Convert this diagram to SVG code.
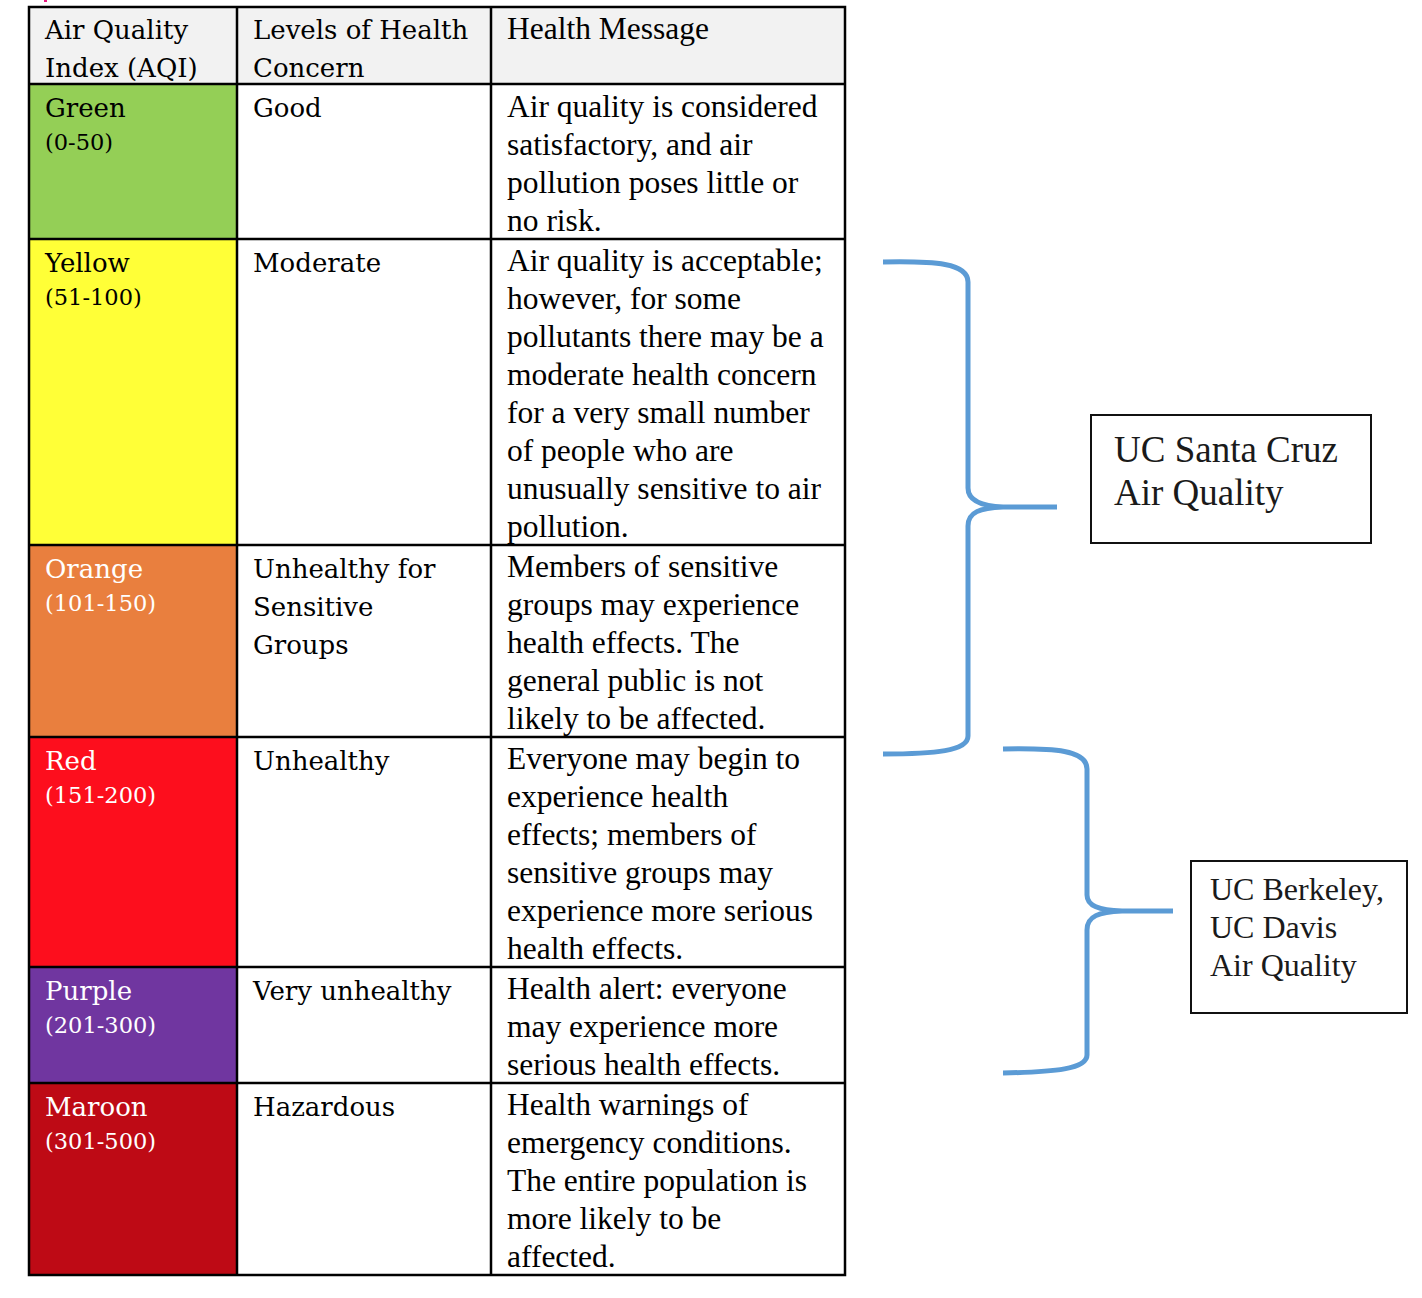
<svg xmlns="http://www.w3.org/2000/svg" width="1422" height="1298" viewBox="0 0 1422 1298">
<style>
.c1{font-family:"DejaVu Serif","Liberation Serif",serif;font-size:26px;fill:#000}
.rg{font-family:"DejaVu Serif","Liberation Serif",serif;font-size:22.5px;fill:#000}
.w{fill:#fff}
.msg{font-family:"Liberation Serif","Times New Roman",serif;font-size:31.5px;fill:#000}
.box{font-family:"Liberation Serif","Times New Roman",serif;fill:#1a1a1a}
.grid{stroke:#000;stroke-width:2.5;fill:none}
.brace{stroke:#5b9bd5;stroke-width:5;fill:none;stroke-linecap:butt;stroke-linejoin:round}
.nb{fill:#fff;stroke:#111;stroke-width:2}
</style>
<rect width="1422" height="1298" fill="#fff"/>
<rect x="44" y="0" width="3" height="2" fill="#e8177f"/>
<g id="table">
<g id="header">
<rect x="29" y="7" width="816" height="77" fill="#f2f2f2"/>
<text class="c1" x="45" y="39">Air Quality</text>
<text class="c1" x="45" y="77">Index (AQI)</text>
<text class="c1" x="253" y="39">Levels of Health</text>
<text class="c1" x="253" y="77">Concern</text>
<text class="msg" x="507" y="39">Health Message</text>
</g>
<g id="row-green">
<rect x="29" y="84" width="208" height="155" fill="#94cf56"/>
<text class="c1" x="45" y="117">Green</text>
<text class="rg" x="45" y="150">(0-50)</text>
<text class="c1" x="253" y="117">Good</text>
<text class="msg" x="507" y="117">Air quality is considered</text>
<text class="msg" x="507" y="155">satisfactory, and air</text>
<text class="msg" x="507" y="193">pollution poses little or</text>
<text class="msg" x="507" y="231">no risk.</text>
</g>
<g id="row-yellow">
<rect x="29" y="239" width="208" height="306" fill="#ffff37"/>
<text class="c1" x="45" y="272">Yellow</text>
<text class="rg" x="45" y="305">(51-100)</text>
<text class="c1" x="253" y="272">Moderate</text>
<text class="msg" x="507" y="271">Air quality is acceptable;</text>
<text class="msg" x="507" y="309">however, for some</text>
<text class="msg" x="507" y="347">pollutants there may be a</text>
<text class="msg" x="507" y="385">moderate health concern</text>
<text class="msg" x="507" y="423">for a very small number</text>
<text class="msg" x="507" y="461">of people who are</text>
<text class="msg" x="507" y="499">unusually sensitive to air</text>
<text class="msg" x="507" y="537">pollution.</text>
</g>
<g id="row-orange">
<rect x="29" y="545" width="208" height="192" fill="#e97f3e"/>
<text class="c1 w" x="45" y="578">Orange</text>
<text class="rg w" x="45" y="611">(101-150)</text>
<text class="c1" x="253" y="578">Unhealthy for</text>
<text class="c1" x="253" y="616">Sensitive</text>
<text class="c1" x="253" y="654">Groups</text>
<text class="msg" x="507" y="577">Members of sensitive</text>
<text class="msg" x="507" y="615">groups may experience</text>
<text class="msg" x="507" y="653">health effects. The</text>
<text class="msg" x="507" y="691">general public is not</text>
<text class="msg" x="507" y="729">likely to be affected.</text>
</g>
<g id="row-red">
<rect x="29" y="737" width="208" height="230" fill="#fd0e1d"/>
<text class="c1 w" x="45" y="770">Red</text>
<text class="rg w" x="45" y="803">(151-200)</text>
<text class="c1" x="253" y="770">Unhealthy</text>
<text class="msg" x="507" y="769">Everyone may begin to</text>
<text class="msg" x="507" y="807">experience health</text>
<text class="msg" x="507" y="845">effects; members of</text>
<text class="msg" x="507" y="883">sensitive groups may</text>
<text class="msg" x="507" y="921">experience more serious</text>
<text class="msg" x="507" y="959">health effects.</text>
</g>
<g id="row-purple">
<rect x="29" y="967" width="208" height="116" fill="#7036a0"/>
<text class="c1 w" x="45" y="1000">Purple</text>
<text class="rg w" x="45" y="1033">(201-300)</text>
<text class="c1" x="253" y="1000">Very unhealthy</text>
<text class="msg" x="507" y="999">Health alert: everyone</text>
<text class="msg" x="507" y="1037">may experience more</text>
<text class="msg" x="507" y="1075">serious health effects.</text>
</g>
<g id="row-maroon">
<rect x="29" y="1083" width="208" height="192" fill="#be0a15"/>
<text class="c1 w" x="45" y="1116">Maroon</text>
<text class="rg w" x="45" y="1149">(301-500)</text>
<text class="c1" x="253" y="1116">Hazardous</text>
<text class="msg" x="507" y="1115">Health warnings of</text>
<text class="msg" x="507" y="1153">emergency conditions.</text>
<text class="msg" x="507" y="1191">The entire population is</text>
<text class="msg" x="507" y="1229">more likely to be</text>
<text class="msg" x="507" y="1267">affected.</text>
</g>
<g id="grid" class="grid">
<rect x="29" y="7" width="816" height="1268"/>
<path d="M237,7V1275M491,7V1275M29,84H845M29,239H845M29,545H845M29,737H845M29,967H845M29,1083H845"/>
</g>
</g>
<g id="connectors">
<path class="brace" d="M883,262 C935,261 968,263 968,282 L968,488 C968,500 980,506 1003,507 L1057,507 M1003,507 C980,508 968,512 968,526 L968,736 C968,751 935,754 883,754"/>
<path class="brace" d="M1003,749 C1055,748 1087,750 1087,769 L1087,895 C1087,906 1099,910 1122,911 L1173,911 M1122,911 C1099,912 1087,916 1087,930 L1087,1055 C1087,1069 1055,1072 1003,1073"/>
</g>
<g id="node-ucsc">
<rect class="nb" x="1091" y="415" width="280" height="128"/>
<text class="box" x="1114" y="462" font-size="37">UC Santa Cruz</text>
<text class="box" x="1114" y="505" font-size="37">Air Quality</text>
</g>
<g id="node-ucb">
<rect class="nb" x="1191" y="861" width="216" height="152"/>
<text class="box" x="1210" y="900" font-size="32">UC Berkeley,</text>
<text class="box" x="1210" y="938" font-size="32">UC Davis</text>
<text class="box" x="1210" y="976" font-size="32">Air Quality</text>
</g>
</svg>
